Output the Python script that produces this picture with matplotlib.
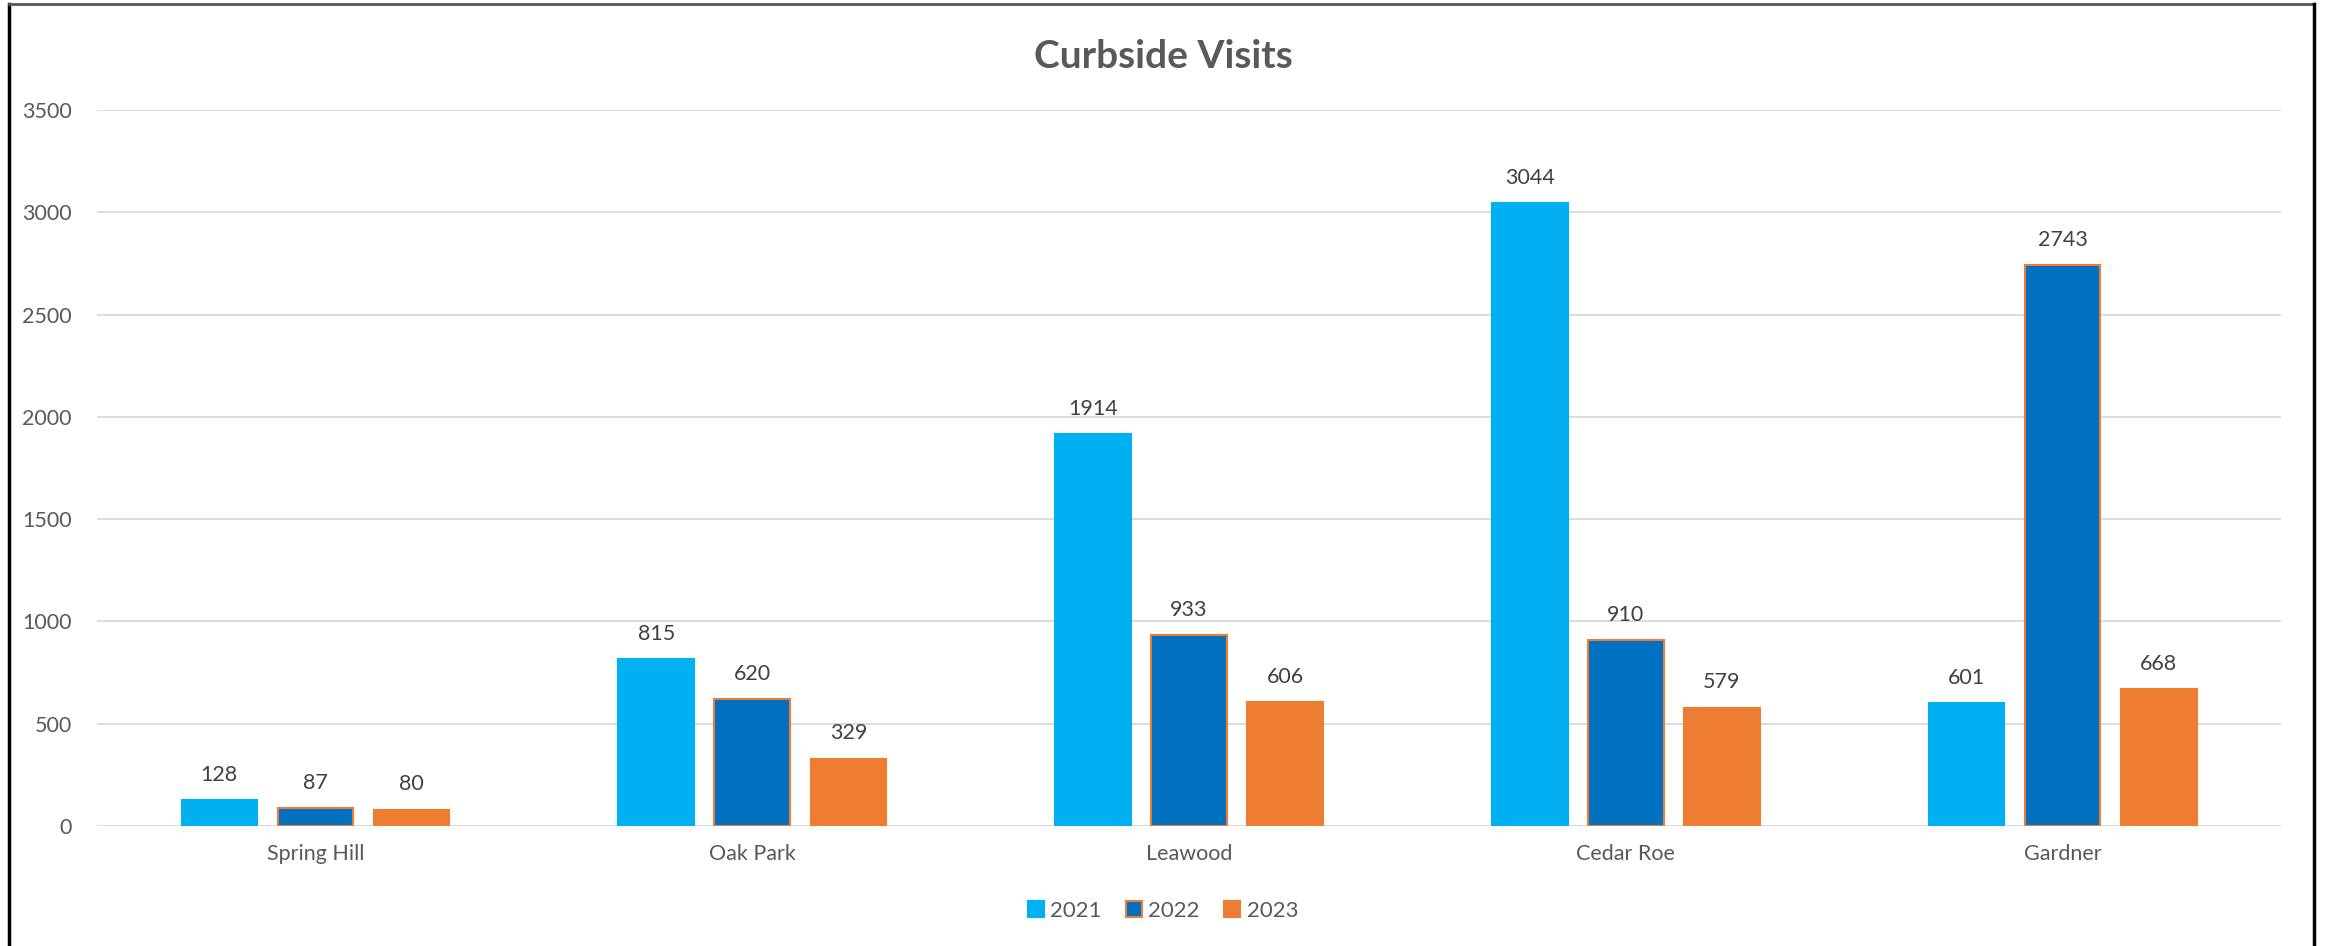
import numpy as np
import matplotlib.pyplot as plt
from matplotlib.lines import Line2D
from matplotlib.patches import Patch

plt.rcParams['font.family'] = ['Lato', 'DejaVu Sans']

# data
sites = ['Spring Hill', 'Oak Park', 'Leawood', 'Cedar Roe', 'Gardner']
years = ['2021', '2022', '2023']
v2021 = [128, 815, 1914, 3044, 601]
v2022 = [87, 620, 933, 910, 2743]
v2023 = [80, 329, 606, 579, 668]

fills = ['#00B0F0', '#0070C0', '#ED7D31']
edges = ['#00B0F0', '#ED7D31', '#ED7D31']

fig = plt.figure(figsize=(23.26, 9.46), dpi=100)
ax = fig.add_axes([0.0417, 0.1268, 0.939, 0.7569])

x = np.arange(len(sites))
w = 0.173
step = 0.22
for i, vals in enumerate([v2021, v2022, v2023]):
    bars = ax.bar(x + (i - 1) * step, vals, w, color=fills[i],
                  edgecolor=edges[i], linewidth=1.5, zorder=3, label=years[i])
    for b, v in zip(bars, vals):
        ax.annotate(str(v), (b.get_x() + b.get_width() / 2, v),
                    xytext=(0, 11), textcoords='offset points',
                    ha='center', va='bottom', fontsize=15.5, color='#404040')

ax.set_xlim(-0.5, len(sites) - 0.5)
ax.set_ylim(0, 3500)
ax.set_yticks(range(0, 3501, 500))
ax.set_xticks(x)
ax.set_xticklabels(sites)
ax.grid(axis='y', color='#D9D9D9', linewidth=1.3, zorder=0)
ax.tick_params(axis='both', length=0, labelsize=15.5, labelcolor='#595959')
ax.tick_params(axis='x', pad=13)
ax.tick_params(axis='y', pad=18)
for s in ax.spines.values():
    s.set_visible(False)

fig.text(0.5, 0.94, 'Curbside Visits', ha='center', va='center',
         fontsize=28, fontweight='bold', color='#595959')

handles = [Patch(facecolor=fills[i], edgecolor=edges[i], linewidth=1.5) for i in range(3)]
fig.legend(handles, years, loc='center', bbox_to_anchor=(0.5, 0.037), ncol=3,
           frameon=False, fontsize=16, labelcolor='#595959',
           handlelength=0.7, handleheight=0.7, handletextpad=0.3, columnspacing=1.1)

# figure border (no bottom edge)
fig.add_artist(Line2D([0.0037, 0.0037], [0, 0.996], color='black', lw=2.5, transform=fig.transFigure))
fig.add_artist(Line2D([0.0037, 0.9947], [0.996, 0.996], color='#555555', lw=2, transform=fig.transFigure))
fig.add_artist(Line2D([0.9947, 0.9947], [0, 0.996], color='black', lw=2.5, transform=fig.transFigure))

fig.savefig('out.png', dpi=100, facecolor='white')
